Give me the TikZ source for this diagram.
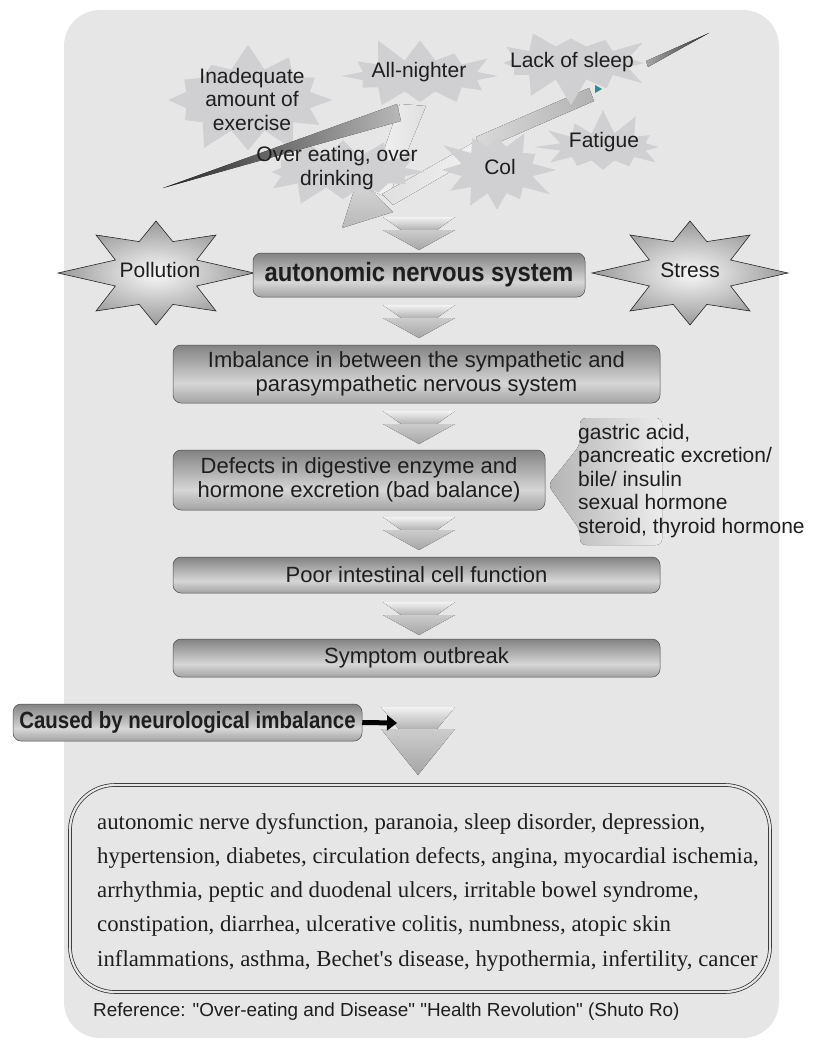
\documentclass[tikz,border=0pt]{standalone}
\usepackage{fontspec}
\setmainfont{Liberation Sans}
\newfontfamily\serifface{Liberation Serif}
\usetikzlibrary{shapes.symbols,arrows.meta}

\definecolor{bgc}{HTML}{E6E6E6}
\definecolor{burstc}{HTML}{D0D0D2}
\definecolor{txtc}{HTML}{1E1E1E}
\definecolor{tealc}{HTML}{2B8A94}
\definecolor{pa}{HTML}{2E2E2E}
\definecolor{pb}{HTML}{9A9A9A}
\definecolor{pc}{HTML}{D6D6D6}
\definecolor{pd}{HTML}{8A8A8A}
\definecolor{pe}{HTML}{4A4A4A}
\pgfdeclareverticalshading{pipe}{100bp}{color(0bp)=(pa); color(22bp)=(pb); color(42bp)=(pc); color(72bp)=(pd); color(100bp)=(pe)}

\newcommand\chevarrow[6]{%
  \fill[top color=gray!10,bottom color=gray!60] ({#1-#5},#2) -- ({#1+#5},#2) -- ({#1+#6},{#2+#3}) -- ({#1-#6},{#2+#3}) -- cycle;
  \fill[top color=gray!40,bottom color=gray!70] ({#1-#5},{#2+#3}) -- ({#1+#5},{#2+#3}) -- (#1,{#2+#3+#4}) -- cycle;
}
\newcommand\eightstar[1]{%
  \path[draw=gray!30!black, line width=0.6pt, inner color=gray!5, outer color=gray!80, shift={#1}]
    (98,0) -- (40.6,-13) -- (60,-38) -- (16.8,-31.4) -- (0,-52) -- (-16.8,-31.4) -- (-60,-38) -- (-40.6,-13)
    -- (-98,0) -- (-40.6,13) -- (-60,38) -- (-16.8,31.4) -- (0,52) -- (16.8,31.4) -- (60,38) -- (40.6,13) -- cycle;
}

\begin{document}
\begin{tikzpicture}[x=1pt,y=-1pt,
  burst/.style={starburst, fill=burstc, draw=none, inner sep=0pt, starburst points=12, starburst point height=26pt},
  bursttext/.style={align=center, text=txtc, inner sep=0pt, font=\fontsize{21}{23.5}\selectfont},
  pipebox/.style={shading=pipe, draw=black!70, line width=0.5pt, rounded corners=8pt, inner sep=0pt, text=txtc, align=center, font=\fontsize{22}{24}\selectfont}
]
\useasboundingbox (0,0) rectangle (813,1043);
\fill[bgc, rounded corners=36pt] (64,10) rectangle (779,1038);

% light ribbons of the swirl arrows (behind)
\fill[left color=gray!8, right color=gray!25] (400,104) -- (426,106) -- (388,198) -- (370,190) -- cycle;
\fill[left color=gray!25, right color=gray!10] (478,140) -- (484,152) -- (393,205) -- (382,194) -- cycle;
\fill[top color=gray!30, bottom color=gray!55] (358,178) -- (393,212) -- (342,228) -- cycle;
\fill[left color=gray!30, right color=gray!60] (589,88) -- (594,101) -- (481,150) -- (476,137) -- cycle;

% starbursts
\node[burst, minimum width=180pt, minimum height=115pt, random starburst=7] (b-inad) at (248,100) {};
\node[burst, minimum width=170pt, minimum height=84pt, random starburst=11] (b-all) at (420,76) {};
\node[burst, minimum width=180pt, minimum height=84pt, random starburst=5] (b-over) at (343,172) {};
\node[burst, minimum width=170pt, minimum height=86pt, random starburst=13] (b-lack) at (571,63) {};
\node[burst, minimum width=125pt, minimum height=100pt, random starburst=3] (b-col) at (497,170) {};
\node[burst, minimum width=140pt, minimum height=80pt, random starburst=17] (b-fat) at (603,147) {};

% dark wedges
\fill[left color=gray!30!black, right color=gray!55] (163,188) -- (397,104) -- (401,121) -- cycle;
\fill[left color=gray!70, right color=gray!40!black] (646,61) -- (709,33) -- (648,67) -- cycle;
\fill[tealc] (595,85) -- (602,89) -- (595,93) -- cycle;

% top texts
\node[bursttext] (t-inad) at (252,99) {Inadequate\\amount of\\exercise};
\node[bursttext] (t-all) at (419,72) {All-nighter};
\node[bursttext] (t-lack) at (572,62) {Lack of sleep};
\node[bursttext] (t-over) at (337,168) {Over eating, over\\drinking};
\node[bursttext] (t-col) at (500,167) {Col};
\node[bursttext] (t-fat) at (604,142) {Fatigue};

% pollution / stress
\eightstar{(156,273)}
\eightstar{(690,273)}
\node[bursttext] (t-pol) at (160,270) {Pollution};
\node[bursttext] (t-str) at (690,270) {Stress};

% chain arrows
\chevarrow{419}{217}{13}{20}{36}{18}
\chevarrow{419}{305}{13}{20}{36}{18}
\chevarrow{419}{411}{13}{20}{36}{18}
\chevarrow{419}{517}{13}{20}{36}{18}
\chevarrow{419}{602}{13}{20}{36}{18}
\chevarrow{418}{707}{22}{46}{37}{19}

% boxes
\node[pipebox, minimum width=332pt, minimum height=44pt] (ans) at (419,275)
  {\bfseries\fontsize{26.5}{28}\selectfont\scalebox{0.9}[1]{autonomic nervous system}};
\node[pipebox, minimum width=487pt, minimum height=58pt] (imb) at (416.5,374)
  {Imbalance in between the sympathetic and\\parasympathetic nervous system};
\node[pipebox, minimum width=372pt, minimum height=60pt] (def) at (359,480)
  {Defects in digestive enzyme and\\hormone excretion (bad balance)};
\node[pipebox, minimum width=487pt, minimum height=36pt] (poor) at (416.5,575)
  {Poor intestinal cell function};
\node[pipebox, minimum width=487pt, minimum height=38pt] (sym) at (416.5,658)
  {Symptom outbreak};

% side arrow with hormones
\fill[left color=gray!60, right color=gray!15, rounded corners=6pt]
  (580,418) -- (662,418) -- (662,545) -- (580,545) -- (580,530) -- (548,485) -- (580,445) -- cycle;
\node[anchor=west, align=left, text=txtc, inner sep=0pt, font=\fontsize{21}{23.5}\selectfont] (side) at (578,481)
  {gastric acid,\\pancreatic excretion/\\bile/ insulin\\sexual hormone\\steroid, thyroid hormone};

% caused by
\node[pipebox, minimum width=349pt, minimum height=37pt] (cause) at (187.5,722.5)
  {\bfseries\fontsize{23.5}{25}\selectfont\scalebox{0.87}[1]{Caused by neurological imbalance}};
\coordinate (bigin) at (397,723);
\draw[line width=5pt, -{Triangle[length=10pt,width=15pt]}] (cause.east) -- (bigin);

% diseases
\node[draw=black!85, double=bgc, double distance=2.2pt, line width=0.7pt, rounded corners=45pt,
  minimum width=700pt, minimum height=207pt, inner sep=0pt] (disbox) at (420,888.5) {};
\node[anchor=west, align=left, inner sep=0pt, text=txtc, font=\serifface\fontsize{22.8}{34.25}\selectfont] (dis) at (97,892)
  {autonomic nerve dysfunction, paranoia, sleep disorder, depression,\\
   hypertension, diabetes, circulation defects, angina, myocardial ischemia,\\
   arrhythmia, peptic and duodenal ulcers, irritable bowel syndrome,\\
   constipation, diarrhea, ulcerative colitis, numbness, atopic skin\\
   inflammations, asthma, Bechet\textquotesingle s disease, hypothermia, infertility, cancer};

\node[anchor=west, inner sep=0pt, text=txtc, font=\fontsize{18.9}{20}\selectfont] (ref) at (93,1012)
  {Reference: \textquotedbl Over-eating and Disease\textquotedbl\ \textquotedbl Health Revolution\textquotedbl\ (Shuto Ro)};
\end{tikzpicture}
\end{document}
